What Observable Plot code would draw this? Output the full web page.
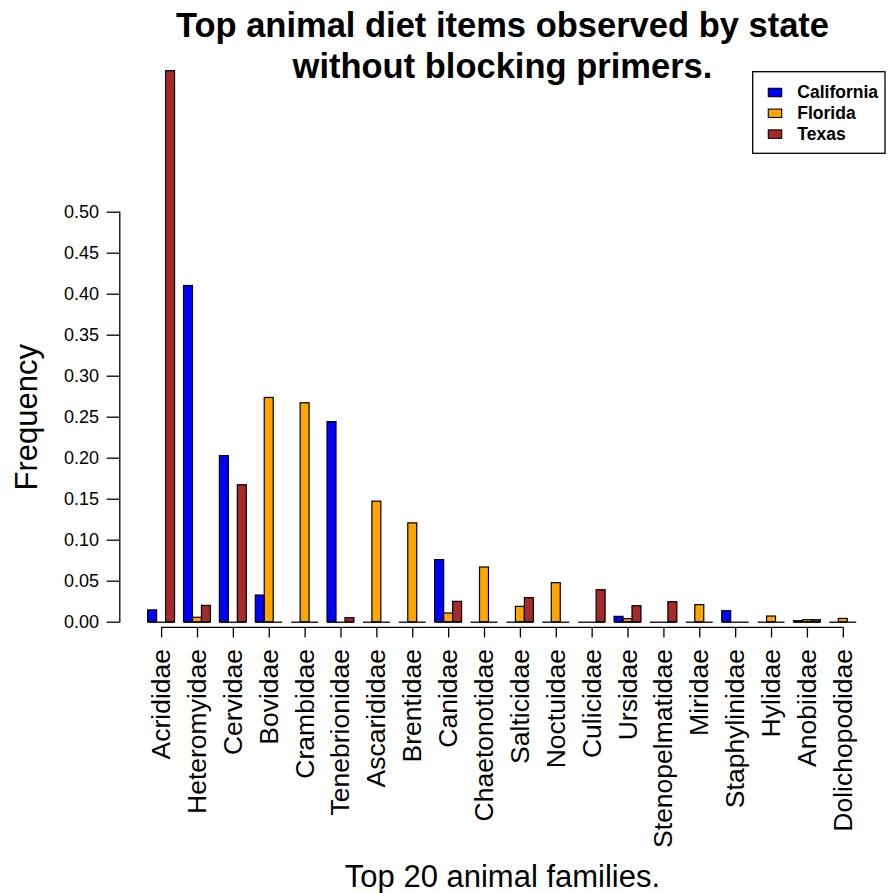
<!DOCTYPE html>
<html>
<head>
<meta charset="utf-8">
<script src="https://cdn.jsdelivr.net/npm/d3@7"></script>
<script src="https://cdn.jsdelivr.net/npm/@observablehq/plot@0.6"></script>
<style>
  html, body { margin: 0; padding: 0; background: #ffffff; }
  #chart { position: relative; width: 891px; height: 893px; }
</style>
</head>
<body>
<div id="chart"></div>
<script>
// ---- Data ----
const families = ["Acrididae","Heteromyidae","Cervidae","Bovidae","Crambidae","Tenebrionidae",
  "Ascarididae","Brentidae","Canidae","Chaetonotidae","Salticidae","Noctuidae","Culicidae",
  "Ursidae","Stenopelmatidae","Miridae","Staphylinidae","Hylidae","Anobiidae","Dolichopodidae"];
const states = ["California", "Florida", "Texas"];
const california = [0.0144,0.410,0.2026,0.0325,0,0.244,0,0,0.0757,0,0,0,0,0.0065,0,0,0.0134,0,0.0012,0];
const florida    = [0,0.0054,0,0.2735,0.267,0,0.147,0.1205,0.0106,0.0667,0.0187,0.0476,0,0.0037,0,0.0208,0,0.0069,0.0024,0.004];
const texas      = [0.672,0.0199,0.167,0,0,0.0049,0,0,0.0248,0,0.0293,0,0.039,0.0195,0.0244,0,0,0,0.0024,0];
const stateColors = ["#0000FF", "#FFA500", "#A52A2A"];
const yTicks = [0,0.05,0.10,0.15,0.20,0.25,0.30,0.35,0.40,0.45,0.50];
const titleLines = ["Top animal diet items observed by state", "without blocking primers."];
const yLabel = "Frequency";
const xLabel = "Top 20 animal families.";

// ---- Build table (R barplot beside=TRUE layout: 3 bars per group, 1 unit gap) ----
const series = [california, florida, texas];
const rows = families.flatMap((f, i) => states.map((s, j) => ({
  family: f, state: s, value: series[j][i],
  x1: 4 * i + j + 1, x2: 4 * i + j + 2
})));
const centers = families.map((f, i) => 4 * i + 2.5);
const axisLine = [{y: 0, a: centers[0], b: centers[centers.length - 1]}];

const font = "'Liberation Sans', Arial, Helvetica, sans-serif";

const chart = Plot.plot({
  width: 891,
  height: 893,
  marginLeft: 119.3,
  marginRight: 6.4,
  marginTop: 211.7,
  marginBottom: 271.3,
  style: {fontFamily: font, background: "#ffffff", color: "#000000", overflow: "visible"},
  x: {type: "linear", domain: [-2.16, 83.16], axis: null},
  y: {domain: [0, 0.5], axis: null},
  color: {domain: states, range: stateColors},
  marks: [
    // y axis line + ticks
    Plot.frame({anchor: "left", stroke: "#000000", strokeWidth: 1.3}),
    Plot.axisY({ticks: yTicks, tickFormat: d => d.toFixed(2), tickSize: 12.7, tickPadding: 8,
      fontSize: 18, label: null, stroke: "#000000", strokeWidth: 1.3}),
    // x axis line + ticks + rotated labels
    Plot.ruleY(axisLine, {y: "y", x1: "a", x2: "b", dy: 5.2, stroke: "#000000", strokeWidth: 1.3}),
    Plot.axisX({ticks: centers, tickFormat: d => families[Math.round((d - 2.5) / 4)],
      tickRotate: -90, tickSize: 10.6, tickPadding: 11, dy: 5.2, fontSize: 26.5, label: null,
      stroke: "#000000", strokeWidth: 1.3}),
    // zero baselines for each bar (shows zero-height bars as flat lines)
    Plot.ruleY(rows, {y: 0, x1: "x1", x2: "x2", stroke: "#000000", strokeWidth: 1.3}),
    // bars
    Plot.rectY(rows, {x1: "x1", x2: "x2", y1: 0, y2: "value", fill: "state",
      stroke: "#000000", strokeWidth: 1.2, inset: 0}),
    // titles
    Plot.text([titleLines[0]], {frameAnchor: "top", dy: -175.7, lineAnchor: "bottom",
      fontSize: 34.5, fontWeight: "bold", fill: "#000000"}),
    Plot.text([titleLines[1]], {frameAnchor: "top", dy: -134.4, lineAnchor: "bottom",
      fontSize: 34.5, fontWeight: "bold", fill: "#000000"}),
    Plot.text([xLabel], {frameAnchor: "bottom", dy: 265, lineAnchor: "bottom",
      fontSize: 31, fill: "#000000"}),
    Plot.text([yLabel], {frameAnchor: "left", dx: -83, rotate: -90, lineAnchor: "bottom",
      textAnchor: "middle", fontSize: 31, fill: "#000000"})
  ]
});

document.getElementById("chart").appendChild(chart);

// ---- Legend (boxed, top right) ----
const svg = d3.select(chart);
const lg = svg.append("g").attr("font-family", font).attr("text-anchor", "start");
lg.append("rect").attr("x", 752.7).attr("y", 71.7).attr("width", 132.3).attr("height", 81.6)
  .attr("fill", "#ffffff").attr("stroke", "#000000").attr("stroke-width", 1.3);
states.forEach((s, i) => {
  const base = 98.3 + i * 20.8;
  lg.append("rect").attr("x", 768.3).attr("y", base - 10).attr("width", 13.4).attr("height", 8.4)
    .attr("fill", stateColors[i]).attr("stroke", "#000000").attr("stroke-width", 1.1);
  lg.append("text").attr("x", 797.3).attr("y", base).attr("font-size", 17.5)
    .attr("text-anchor", "start").attr("font-weight", "bold").attr("fill", "#000000").text(s);
});
</script>
</body>
</html>
